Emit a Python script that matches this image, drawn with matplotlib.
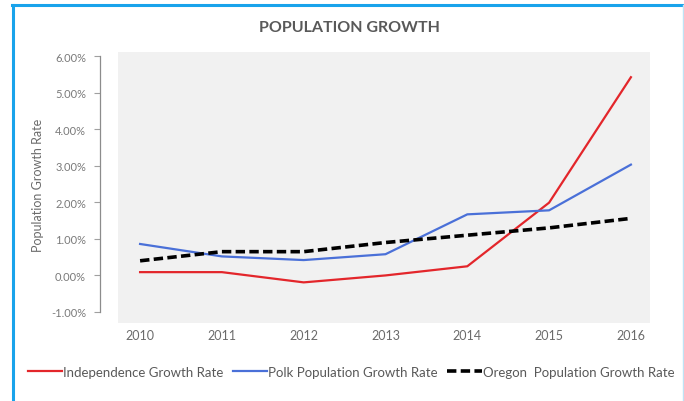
import matplotlib
matplotlib.use("Agg")
import matplotlib.pyplot as plt
from matplotlib.patches import Rectangle
from matplotlib.lines import Line2D
from matplotlib.ticker import FuncFormatter
import numpy as np

years = ["2010", "2011", "2012", "2013", "2014", "2015", "2016"]
independence = [0.09, 0.09, -0.19, 0.0, 0.25, 1.99, 5.42]
polk = [0.86, 0.52, 0.42, 0.58, 1.67, 1.78, 3.03]
oregon = [0.40, 0.65, 0.65, 0.90, 1.10, 1.30, 1.56]
yticks = [-1, 0, 1, 2, 3, 4, 5, 6]

plt.rcParams['font.family'] = ['Lato', 'DejaVu Sans']

W, H = 684, 402
fig = plt.figure(figsize=(W / 100, H / 100), dpi=100)

# light gray plot area behind the axes
fig.patches.append(Rectangle((118 / W, (H - 324) / H), 532 / W, 271 / H,
                             transform=fig.transFigure, facecolor='#f1f1f1',
                             edgecolor='none', zorder=-5))
# blue frame on the left and top
fig.add_artist(Line2D([13 / W, 13 / W], [0, (H - 6) / H], transform=fig.transFigure,
                      color='#19a3eb', lw=2.2))
fig.add_artist(Line2D([12 / W, 1], [(H - 6) / H, (H - 6) / H], transform=fig.transFigure,
                      color='#19a3eb', lw=2.2))
fig.add_artist(Line2D([682.5 / W, 682.5 / W], [0, (H - 6) / H], transform=fig.transFigure,
                      color='#bfe3f5', lw=1))

ax = fig.add_axes([100 / W, (H - 313) / H, 571 / W, 256 / H])
ax.patch.set_alpha(0)

x = np.arange(len(years))
ax.plot(x, independence, color='#e3262b', lw=1.6, label='Independence Growth Rate')
ax.plot(x, polk, color='#4a70d8', lw=1.6, label='Polk Population Growth Rate')
ax.plot(x, oregon, color='black', lw=2.6, dashes=(2.6, 1.2),
        label='Oregon  Population Growth Rate')

ax.set_xlim(-0.49, 6.49)
ax.set_ylim(-1, 6)
ax.set_xticks(x)
ax.set_xticklabels(years)
ax.set_yticks(yticks)
ax.yaxis.set_major_formatter(FuncFormatter(lambda v, p: '%.2f%%' % v))

for s in ['top', 'right', 'bottom']:
    ax.spines[s].set_visible(False)
ax.spines['left'].set_color('#8c8c8c')
ax.spines['left'].set_linewidth(0.9)
ax.tick_params(axis='x', length=0, labelsize=9, labelcolor='#6b6b6b', pad=12)
ax.tick_params(axis='y', length=4, width=0.8, color='#a0a0a0', labelsize=8,
               labelcolor='#7a7a7a', pad=6)

fig.text(38 / W, (H - 185) / H, 'Population Growth Rate', rotation=90,
         ha='center', va='center', fontsize=9, color='#6b6b6b')
fig.text(349 / W, (H - 28) / H, 'POPULATION GROWTH', ha='center', va='center',
         fontsize=11.5, fontweight='bold', color='#595959')

handles, labels = ax.get_legend_handles_labels()
leg = fig.legend(handles, labels, loc='center', bbox_to_anchor=(351 / W, (H - 373) / H),
                 ncol=3, frameon=False, fontsize=9.5, handlelength=2.6,
                 handletextpad=0.1, columnspacing=0.7)
for t in leg.get_texts():
    t.set_color('#595959')

fig.savefig('out.png', dpi=100, facecolor='white')
